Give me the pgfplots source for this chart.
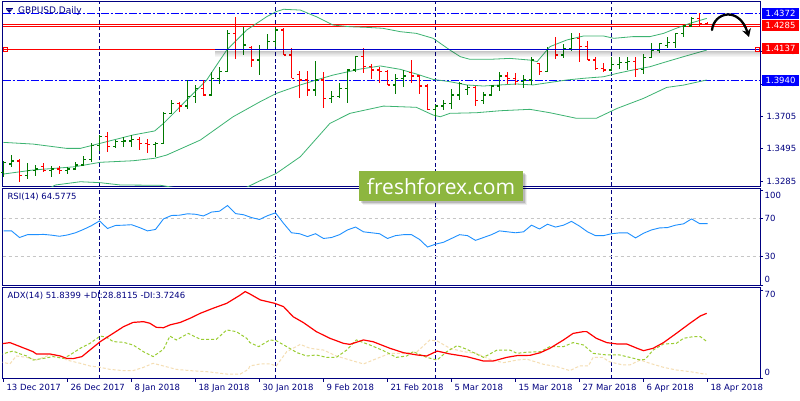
\documentclass[border=0pt]{standalone}
\usepackage{fontspec}
\setmainfont{DejaVu Sans}
\newfontfamily\logofont{Open Sans}
\usepackage{pgfplots}
\pgfplotsset{compat=1.18}
\usepackage{pgfplotstable}
\usetikzlibrary{arrows.meta}

\definecolor{mtnavy}{RGB}{0,0,128}
\definecolor{mtblue}{RGB}{0,0,255}
\definecolor{bullc}{RGB}{0,120,0}
\definecolor{bearc}{RGB}{255,0,0}
\definecolor{bbc}{RGB}{60,179,113}
\definecolor{rsic}{RGB}{30,144,255}
\definecolor{dipc}{RGB}{154,205,50}
\definecolor{dimc}{RGB}{245,222,179}
\definecolor{logog}{RGB}{141,182,63}

\pgfdeclareplotmark{otick}{\pgfpathmoveto{\pgfqpoint{-2.5pt}{0pt}}\pgfpathlineto{\pgfqpoint{0pt}{0pt}}\pgfusepathqstroke}
\pgfdeclareplotmark{ctick}{\pgfpathmoveto{\pgfqpoint{0pt}{0pt}}\pgfpathlineto{\pgfqpoint{2.5pt}{0pt}}\pgfusepathqstroke}

% daily bars, k = bar index (13 Dec 2017 = 0)
\pgfplotstableread{
k O H L C
0 1.3340 1.3415 1.3313 1.3406
1 1.3395 1.3454 1.3378 1.3415
3 1.3320 1.3404 1.3296 1.3356
4 1.3356 1.3389 1.3318 1.3363
6 1.3356 1.3382 1.3313 1.3363
8 1.3356 1.3378 1.3330 1.3363
9 1.3363 1.3410 1.3356 1.3389
10 1.3389 1.3447 1.3389 1.3426
11 1.3426 1.3534 1.3410 1.3514
12 1.3514 1.3583 1.3482 1.3572
14 1.3508 1.3551 1.3497 1.3540
15 1.3540 1.3572 1.3508 1.3545
16 1.3545 1.3583 1.3508 1.3555
19 1.3523 1.3540 1.3443 1.3530
20 1.3530 1.3734 1.3523 1.3724
21 1.3724 1.3810 1.3717 1.3788
23 1.3771 1.3940 1.3750 1.3832
24 1.3832 1.3907 1.3793 1.3886
26 1.3842 1.3994 1.3842 1.3950
27 1.3950 1.4026 1.3912 1.3994
28 1.3994 1.4264 1.3994 1.4242
30 1.4138 1.4285 1.4102 1.4166
32 1.4069 1.4166 1.3972 1.4138
33 1.4138 1.4236 1.4134 1.4188
34 1.4188 1.4285 1.4156 1.4264
39 1.3875 1.4063 1.3838 1.3940
41 1.3821 1.3870 1.3788 1.3832
42 1.3832 1.3918 1.3825 1.3886
43 1.3886 1.4011 1.3788 1.4004
44 1.4004 1.4095 1.3994 1.4091
49 1.3907 1.3978 1.3847 1.3950
50 1.3950 1.4004 1.3896 1.3966
54 1.3750 1.3778 1.3698 1.3771
55 1.3771 1.3810 1.3745 1.3788
56 1.3788 1.3879 1.3750 1.3842
57 1.3842 1.3929 1.3810 1.3918
58 1.3880 1.3907 1.3842 1.3892
60 1.3806 1.3864 1.3782 1.3842
61 1.3842 1.3907 1.3836 1.3901
62 1.3901 1.3994 1.3870 1.3966
65 1.3929 1.3972 1.3886 1.3940
66 1.3940 1.4086 1.3907 1.4069
68 1.3994 1.4151 1.3994 1.4138
70 1.4102 1.4171 1.4080 1.4145
71 1.4145 1.4242 1.4128 1.4210
76 1.4004 1.4086 1.4004 1.4041
77 1.4041 1.4091 1.4009 1.4054
78 1.4054 1.4091 1.4004 1.4058
80 1.4009 1.4108 1.3978 1.4086
81 1.4086 1.4177 1.4080 1.4134
82 1.4134 1.4182 1.4117 1.4177
83 1.4165 1.4220 1.4145 1.4185
84 1.4185 1.4246 1.4145 1.4242
85 1.4242 1.4296 1.4220 1.4290
86 1.4290 1.4346 1.4281 1.4339
}\bull

\pgfplotstableread{
k O H L C
2 1.3415 1.3426 1.3281 1.3320
5 1.3378 1.3404 1.3346 1.3356
7 1.3363 1.3384 1.3330 1.3356
13 1.3572 1.3600 1.3475 1.3508
17 1.3555 1.3572 1.3486 1.3529
18 1.3529 1.3555 1.3464 1.3523
22 1.3788 1.3799 1.3730 1.3771
25 1.3886 1.3940 1.3836 1.3842
29 1.4242 1.4350 1.4074 1.4138
31 1.4150 1.4160 1.4022 1.4069
35 1.4264 1.4274 1.4102 1.4102
36 1.4102 1.4145 1.3950 1.3950
37 1.3975 1.3998 1.3825 1.3940
38 1.3940 1.4000 1.3838 1.3875
40 1.3940 1.3994 1.3756 1.3821
45 1.4091 1.4145 1.3987 1.4026
46 1.4026 1.4043 1.3946 1.4004
47 1.4004 1.4026 1.3922 1.3994
48 1.3994 1.4004 1.3907 1.3907
51 1.3990 1.4069 1.3922 1.3966
52 1.3966 1.3972 1.3847 1.3901
53 1.3901 1.3914 1.3745 1.3750
59 1.3892 1.3901 1.3771 1.3806
63 1.3966 1.3994 1.3914 1.3950
64 1.3950 1.3987 1.3907 1.3929
67 1.4045 1.4052 1.3972 1.3994
69 1.4138 1.4220 1.4074 1.4102
72 1.4210 1.4242 1.4058 1.4156
73 1.4156 1.4194 1.4069 1.4069
74 1.4069 1.4086 1.4004 1.4015
75 1.4015 1.4048 1.3994 1.4004
79 1.4058 1.4091 1.3957 1.4009
87 1.4339 1.4376 1.4281 1.4307
88 1.4307 1.4318 1.4296 1.4300
}\bear

\pgfplotsset{
  mt4/.style={
    scale only axis, width=757.3pt, anchor=south west,
    xmin=-0.1, xmax=94.56,
    axis line style={mtnavy, line width=1pt},
    tick style={mtnavy, line width=0.7pt},
    tick align=outside, major tick length=3pt,
    xtick=\empty, ytick pos=right, yticklabel pos=right,
    ticklabel style={font=\fontsize{8.5}{10}\selectfont, text=mtnavy},
    extra x ticks={12,34,54,76}, extra x tick labels={},
    extra x tick style={grid=major, major tick length=0pt},
    major grid style={mtnavy, line width=1pt, dash pattern=on 4pt off 2.5pt},
  },
  hl/.style={mtblue, line width=0.85pt, dash pattern=on 8pt off 2pt on 2pt off 2pt},
  bars/.style={#1, only marks, mark=ctick, mark options={line width=1.3pt},
    error bars/.cd, y dir=both, y explicit, error mark=none,
    error bar style={line width=1.3pt, #1}},
}

\begin{document}
\begin{tikzpicture}
\fill[white] (0pt,0pt) rectangle (800pt,-400pt);

% price panel
\begin{axis}[mt4, at={(2.7pt,-186pt)}, height=184.3pt,
  ymin=1.32534, ymax=1.44471,
  ytick={1.3285,1.3495,1.3705,1.3915,1.4125},
  yticklabels={1.3285,1.3495,1.3705,1.3915,1.4125}]
\addplot[hl] coordinates {(-0.1,1.4372) (94.56,1.4372)};
\addplot[hl] coordinates {(-0.1,1.3940) (94.56,1.3940)};
\addplot[bearc, line width=1pt] coordinates {(-0.1,1.4298) (94.56,1.4298)};
\addplot[bearc, line width=1pt] coordinates {(-0.1,1.4289) (94.56,1.4289)};
\addplot[bearc, line width=1pt] coordinates {(-0.1,1.4137) (94.56,1.4137)};
% bollinger bands
\addplot[bbc, line width=0.8pt] coordinates {(0,1.3536) (3.7,1.3525) (7.9,1.3497) (9.6,1.3497) (12.1,1.3530) (16.2,1.3584) (18.9,1.3610) (20,1.3659) (22.9,1.3810) (25.4,1.3940) (27.9,1.4134) (30.4,1.4264) (32.9,1.4350) (34.1,1.4383) (35,1.4398) (37.1,1.4393) (39.1,1.4350) (41.2,1.4296) (43.3,1.4285) (45.4,1.4281) (47.4,1.4275) (49.6,1.4253) (51.6,1.4242) (53.7,1.4210) (55.8,1.4134) (57.1,1.4091) (58.3,1.4074) (60.8,1.4074) (63.3,1.4080) (65.8,1.4069) (66.7,1.4059) (68.3,1.4156) (70.4,1.4199) (72.5,1.4225) (75,1.4225) (76.3,1.4210) (78.7,1.4221) (80.8,1.4221) (82.5,1.4242) (84.1,1.4275) (85.8,1.4307) (87.9,1.4339)};
\addplot[bbc, line width=0.8pt] coordinates {(0,1.3331) (3.7,1.3357) (8.9,1.3378) (12.1,1.3407) (16.2,1.3417) (18.9,1.3433) (20.4,1.3454) (24.6,1.3551) (28.7,1.3702) (32.1,1.3800) (34.1,1.3853) (37.1,1.3908) (39.1,1.3940) (41.2,1.3972) (44.6,1.4011) (47.1,1.4031) (49.6,1.4009) (51.6,1.3979) (53.7,1.3944) (55.8,1.3929) (57.9,1.3908) (60,1.3901) (62.1,1.3908) (64.1,1.3914) (66.2,1.3908) (67.5,1.3918) (70.4,1.3940) (72.5,1.3951) (75,1.3961) (76.7,1.3983) (78.7,1.4005) (80.8,1.4026) (82.9,1.4059) (85,1.4091) (87.9,1.4134)};
\addplot[bbc, line width=0.8pt] coordinates {(0,1.3126) (3.7,1.3189) (6.5,1.3260) (9.6,1.3281) (12.1,1.3275) (14.6,1.3260) (19.6,1.3258) (23,1.3230) (25.5,1.3180) (28,1.3190) (30.4,1.3245) (31.8,1.3281) (34.1,1.3335) (37.1,1.3443) (40.8,1.3659) (43.3,1.3724) (47.5,1.3771) (51.6,1.3763) (53.7,1.3713) (54.6,1.3702) (55.8,1.3724) (59.1,1.3728) (62.1,1.3741) (65.8,1.3750) (68.3,1.3728) (71.6,1.3692) (74.1,1.3692) (76.7,1.3756) (80,1.3821) (82.9,1.3892) (85,1.3907) (87.9,1.3940)};
% bars
\addplot[bars=bullc] table[x=k, y=C, y error plus expr=\thisrow{H}-\thisrow{C}, y error minus expr=\thisrow{C}-\thisrow{L}] {\bull};
\addplot[bullc, only marks, mark=otick, mark options={line width=1.3pt}] table[x=k, y=O] {\bull};
\addplot[bars=bearc] table[x=k, y=C, y error plus expr=\thisrow{H}-\thisrow{C}, y error minus expr=\thisrow{C}-\thisrow{L}] {\bear};
\addplot[bearc, only marks, mark=otick, mark options={line width=1.3pt}] table[x=k, y=O] {\bear};
\end{axis}

% RSI panel
\begin{axis}[mt4, at={(2.7pt,-285pt)}, height=96.3pt,
  ymin=0, ymax=101.4, ytick={0,30,70,100}, yticklabels={}]
\addplot[gray!45, line width=0.8pt, dash pattern=on 3pt off 3pt] coordinates {(-0.1,70) (94.56,70)};
\addplot[gray!45, line width=0.8pt, dash pattern=on 3pt off 3pt] coordinates {(-0.1,30) (94.56,30)};
\addplot[rsic, line width=0.9pt] coordinates {(0,57.0) (1,57.0) (2,50.0) (3,53.0) (4,53.0) (5,53.3) (6,52.5) (7,51.3) (8,52.7) (9,55.0) (10,58.5) (11,62.5) (12,67.5) (13,59.5) (14,62.7) (15,63.0) (16,63.5) (17,60.5) (18,57.0) (19,58.5) (20,69.6) (21,73.2) (22,73.5) (23,75.0) (24,74.5) (25,72.7) (26,76.8) (27,77.7) (28,83.7) (29,75.2) (30,74.0) (31,71.0) (32,69.0) (33,73.0) (34,76.0) (35,65.0) (36,55.0) (37,54.0) (38,51.0) (39,54.0) (40,49.0) (41,50.0) (42,53.0) (43,58.0) (44,61.0) (45,56.0) (46,55.0) (47,54.0) (48,49.0) (49,52.0) (50,53.0) (51,53.0) (52,48.0) (53,40.0) (54,43.0) (55,45.0) (56,49.0) (57,53.0) (58,52.0) (59,47.0) (60,50.0) (61,53.0) (62,57.0) (63,56.0) (64,55.0) (65,56.0) (66,63.0) (67,59.0) (68,64.0) (69,61.0) (70,63.0) (71,67.0) (72,62.0) (73,56.0) (74,52.0) (75,52.0) (76,54.0) (77,54.9) (78,54.9) (79,49.6) (80,54.5) (81,58.0) (82,60.1) (83,60.5) (84,63.0) (85,64.4) (86,69.6) (87,64.7) (88,64.6)};
\end{axis}

% ADX panel
\begin{axis}[mt4, at={(2.7pt,-378.7pt)}, height=91.4pt,
  ymin=0, ymax=72.4, ytick={0,70}, yticklabels={},
  xtick={0,8,...,88}, xtick pos=bottom,
  xticklabels={13 Dec 2017,26 Dec 2017,8 Jan 2018,18 Jan 2018,30 Jan 2018,9 Feb 2018,21 Feb 2018,5 Mar 2018,15 Mar 2018,27 Mar 2018,6 Apr 2018,18 Apr 2018},
  xticklabel style={anchor=north west, xshift=-0.5pt, yshift=1pt}]
\addplot[dimc, line width=1pt, dash pattern=on 3pt off 2pt] coordinates {(-0.4,13.5) (0.8,11.7) (1.6,18.0) (2.9,16.9) (4.1,14.8) (5.8,18.8) (7.1,18.0) (7.9,14.8) (9.6,12.2) (10.8,10.1) (12.1,9.0) (13.3,7.4) (15.0,6.4) (16.2,6.4) (17.5,9.0) (18.7,12.2) (20.0,10.1) (21.6,7.4) (23.3,6.4) (25.4,5.6) (27.9,3.7) (29.6,3.7) (30.6,7.4) (30.8,10.1) (32.1,11.7) (33.3,11.7) (34.1,10.1) (35.4,21.4) (37.1,27.2) (38.3,24.1) (40.0,22.7) (41.6,18.0) (43.3,14.8) (45.0,11.7) (46.2,14.8) (48.3,20.1) (50.0,20.1) (51.7,21.4) (53.3,30.7) (54.2,29.9) (55.8,24.1) (57.5,21.4) (59.1,20.1) (60.8,15.3) (62.5,12.7) (64.2,14.8) (65.4,15.5) (67.5,11.4) (69.2,9.5) (70.8,6.4) (72.0,10.1) (73.1,10.1) (73.7,16.9) (74.9,16.9) (75.7,13.5) (77.4,10.9) (78.3,10.9) (79.6,14.8) (80.8,12.2) (82.5,9.0) (84.1,6.9) (85.8,5.6) (87.5,3.8) (87.9,3.7)};
\addplot[dipc, line width=1pt, dash pattern=on 3pt off 2pt] coordinates {(-0.4,18.8) (0.4,20.6) (1.2,21.9) (2.1,19.6) (2.9,18.0) (3.7,14.8) (5.0,16.1) (6.2,17.5) (7.5,16.1) (8.3,18.8) (9.6,24.1) (10.8,28.0) (12.1,33.8) (12.9,32.8) (13.7,29.4) (15.0,28.8) (16.2,26.7) (17.5,21.4) (18.7,17.5) (20.0,23.3) (20.8,33.8) (21.6,30.7) (23.1,35.9) (24.6,31.2) (26.6,31.2) (27.9,38.6) (29.1,37.3) (30.4,32.0) (30.8,28.6) (31.9,25.4) (33.3,30.7) (34.1,30.1) (35.4,25.4) (36.7,20.6) (37.9,18.0) (39.1,18.8) (40.4,16.9) (41.6,16.9) (42.9,22.7) (44.1,30.7) (45.8,26.7) (47.5,22.2) (49.1,16.9) (50.4,18.0) (51.2,21.4) (52.9,16.9) (54.2,14.8) (55.4,21.4) (56.7,26.2) (57.9,23.3) (60.0,16.9) (61.7,22.7) (63.3,22.7) (64.2,20.1) (65.4,21.0) (67.1,21.4) (68.3,25.4) (70.0,25.4) (71.2,28.6) (72.5,26.7) (73.7,20.1) (75.4,18.8) (77.0,18.8) (78.3,16.9) (79.6,14.8) (80.2,15.3) (81.2,22.7) (82.5,27.5) (84.1,28.0) (85.0,32.0) (86.2,33.3) (87.1,33.3) (87.9,29.5)};
\addplot[bearc, line width=1.2pt] coordinates {(-0.4,27.5) (0.8,28.6) (2.1,25.4) (3.7,21.4) (4.1,19.6) (5.8,19.6) (7.1,18.0) (7.9,16.1) (8.7,15.9) (9.8,17.5) (10.8,22.7) (12.1,29.4) (13.7,35.9) (15.0,41.2) (16.2,44.6) (17.5,45.2) (18.3,43.9) (19.1,40.7) (20.0,40.4) (20.8,42.6) (22.1,44.6) (23.3,47.8) (24.6,51.8) (26.2,55.8) (27.9,59.7) (29.6,66.3) (30.2,69.0) (30.8,67.1) (32.1,62.4) (33.9,59.7) (35.0,57.1) (36.2,49.1) (37.5,44.4) (39.1,37.3) (40.8,32.0) (42.5,28.0) (43.3,27.2) (45.0,30.7) (46.2,29.3) (48.3,24.1) (50.0,20.6) (51.7,18.8) (52.9,18.0) (54.2,21.9) (55.8,19.6) (57.9,17.5) (60.0,14.0) (61.2,14.0) (62.9,16.9) (64.2,18.3) (65.8,18.5) (67.1,20.6) (68.3,24.1) (70.0,30.7) (71.2,35.9) (72.5,37.3) (72.9,37.3) (74.1,32.0) (75.4,28.6) (76.7,27.5) (77.9,27.5) (79.2,24.1) (80.0,22.2) (81.2,24.1) (82.5,28.6) (84.1,35.9) (85.8,43.9) (87.1,49.7) (87.9,51.8)};
\end{axis}

% 1.4137 line: blue overlay with soft shadow
\draw[black, opacity=0.22, line width=1pt] (215pt,-51.1pt) -- (760pt,-51.1pt);
\draw[black, opacity=0.18, line width=1pt] (215pt,-52.1pt) -- (760pt,-52.1pt);
\draw[black, opacity=0.14, line width=1pt] (215pt,-53.1pt) -- (760pt,-53.1pt);
\draw[black, opacity=0.10, line width=1pt] (215pt,-54.1pt) -- (760pt,-54.1pt);
\draw[black, opacity=0.07, line width=1pt] (215pt,-55.1pt) -- (760pt,-55.1pt);
\draw[black, opacity=0.04, line width=1pt] (215pt,-56.1pt) -- (760pt,-56.1pt);
\draw[mtblue!80!black, line width=1.2pt] (215pt,-49.6pt) -- (760pt,-49.6pt);
\draw[bearc, line width=0.8pt] (3.5pt,-47.6pt) rectangle (7.5pt,-51.6pt);
\draw[bearc, line width=0.8pt] (755.5pt,-47.6pt) rectangle (759.5pt,-51.6pt);

% title and panel captions
\fill[mtnavy] (6pt,-9.3pt) -- (12.5pt,-9.3pt) -- (9.25pt,-12.8pt) -- cycle;
\draw[mtnavy, line width=0.8pt] (6pt,-8.3pt) -- (12.5pt,-8.3pt);
\node[anchor=west, inner sep=0, text=mtnavy, font=\fontsize{9}{10}\selectfont] at (18pt,-11pt) {GBPUSD,Daily};
\node[anchor=west, inner sep=0, text=mtnavy, font=\fontsize{8.5}{10}\selectfont] at (7.3pt,-196.7pt) {RSI(14) 64.5775};
\node[anchor=west, inner sep=0, text=mtnavy, font=\fontsize{8.5}{10}\selectfont] at (7.3pt,-296pt) {ADX(14) 51.8399 +DI:28.8115 -DI:3.7246};

% indicator scale labels
\begin{scope}[every node/.style={anchor=west, inner sep=0, text=mtnavy, font=\fontsize{8.5}{10}\selectfont}]
\node at (764.5pt,-195pt) {100};
\node at (764.5pt,-218.3pt) {70};
\node at (764.5pt,-256.3pt) {30};
\node at (764.5pt,-279pt) {0};
\node at (764.5pt,-294.3pt) {70};
\node at (764.5pt,-372.3pt) {0};
\end{scope}

% price boxes
\begin{scope}[every node/.style={anchor=west, inner sep=0, minimum width=37.3pt, minimum height=10.8pt, text=white, font=\fontsize{8.5}{10}\selectfont}]
\node[fill=mtblue] at (761.7pt,-13.7pt) {1.4372};
\node[fill=bearc] at (761.7pt,-25.3pt) {1.4285};
\node[fill=bearc] at (761.7pt,-48.7pt) {1.4137};
\node[fill=mtblue] at (761.7pt,-80.3pt) {1.3940};
\end{scope}

% forecast arrow
\draw[black, line width=2.3pt, line cap=round, -{Stealth[length=8pt, width=9pt]}] (712pt,-30pt) .. controls (714pt,-12pt) and (739pt,-6pt) .. (749pt,-37pt);

% logo
\fill[black, opacity=0.06] (363pt,-175pt) rectangle (527pt,-205pt);
\fill[black, opacity=0.10] (362pt,-174pt) rectangle (526pt,-204pt);
\fill[black, opacity=0.14] (361pt,-173pt) rectangle (525pt,-203pt);
\fill[logog] (359pt,-171pt) rectangle (523pt,-201pt);
\node[text=white, inner sep=0, font=\logofont\fontsize{21}{21}\selectfont] at (441pt,-186.5pt) {freshforex.com};

\pgfresetboundingbox
\useasboundingbox (0pt,0pt) rectangle (800pt,-400pt);
\end{tikzpicture}
\end{document}
